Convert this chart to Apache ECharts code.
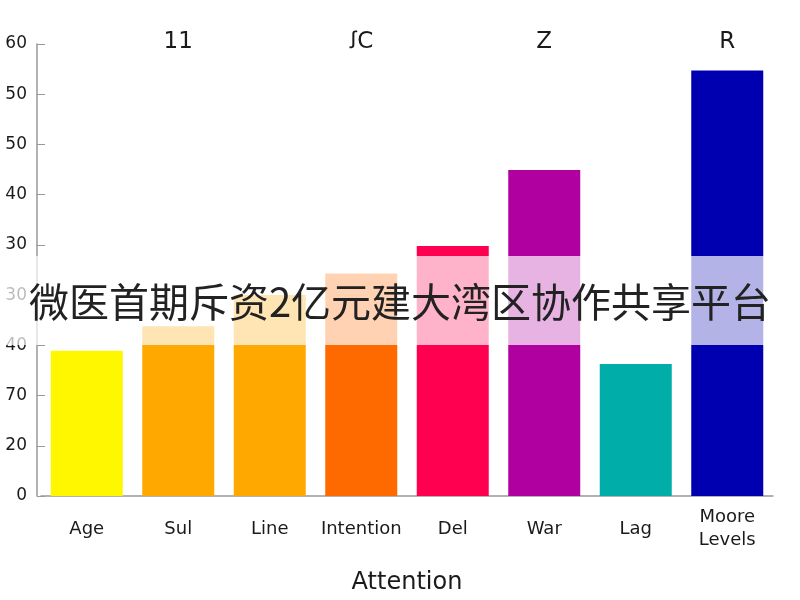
<!DOCTYPE html>
<html>
<head>
<meta charset="utf-8">
<script src="https://cdn.jsdelivr.net/npm/echarts@6/dist/echarts.min.js"></script>
<style>html,body{margin:0;padding:0;background:#fff;overflow:hidden;width:800px;height:600px}#c{width:800px;height:600px}</style>
</head>
<body>
<div id="c"></div>
<script>
const categories = ["Age", "Sul", "Line", "Intention", "Del", "War", "Lag", "Moore\nLevels"];
const values = [28.9, 33.8, 40.0, 44.3, 49.8, 64.9, 26.3, 84.7];
const barColors = ["#FFF700", "#FFA800", "#FFA800", "#FF6A00", "#FF0050", "#B000A0", "#00ADA8", "#0000B0"];
const yTickLabels = ["0", "20", "70", "40", "30", "30", "40", "50", "50", "60"];
const topLabels = ["", "11", "", "ꭍC", "", "Z", "", "R"];
const bannerText = "微医首期斥资2亿元建大湾区协作共享平台";

const chart = echarts.init(document.getElementById('c'), null, { width: 800, height: 600 });
chart.setOption({
  animation: false,
  backgroundColor: '#ffffff',
  grid: { left: 41, right: 27, top: 44, bottom: 101 },
  xAxis: [{
    type: 'category',
    data: categories,
    name: 'Attention',
    nameLocation: 'middle',
    nameGap: 75,
    nameTextStyle: { fontSize: 24, color: '#1a1a1a', fontFamily: 'DejaVu Sans' },
    axisLine: { lineStyle: { color: '#999', width: 1.5 } },
    axisTick: { show: false },
    axisLabel: { fontSize: 18, color: '#1a1a1a', margin: 33, verticalAlign: 'middle', lineHeight: 23, interval: 0, fontFamily: 'DejaVu Sans' }
  }, {
    type: 'category',
    position: 'top',
    data: topLabels,
    axisLine: { show: false },
    axisTick: { show: false },
    axisLabel: { fontSize: 23, color: '#1a1a1a', margin: -10, interval: 0, fontFamily: 'DejaVu Sans' }
  }],
  yAxis: {
    type: 'value',
    min: 0, max: 90, interval: 10,
    offset: 4,
    splitLine: { show: false },
    axisLine: { show: true, lineStyle: { color: '#999', width: 1.5 } },
    axisTick: { show: true, inside: true, length: 8, lineStyle: { color: '#999' } },
    axisLabel: {
      fontSize: 17, color: '#1a1a1a', margin: 10, fontFamily: 'DejaVu Sans',
      formatter: function (v) { return yTickLabels[Math.round(v / 10)]; }
    }
  },
  series: [{
    type: 'bar',
    data: values.map(function (v, i) { return { value: v, itemStyle: { color: barColors[i] } }; }),
    barWidth: 72
  }],
  graphic: [{
    type: 'rect',
    left: 0, top: 256,
    shape: { width: 800, height: 89 },
    style: { fill: 'rgba(255,255,255,0.7)' },
    z: 100
  }, {
    type: 'text',
    left: 'center', top: 282,
    style: { text: bannerText, font: '40px "Noto Sans CJK SC"', fill: '#222' },
    z: 101
  }]
});
</script>
</body>
</html>
